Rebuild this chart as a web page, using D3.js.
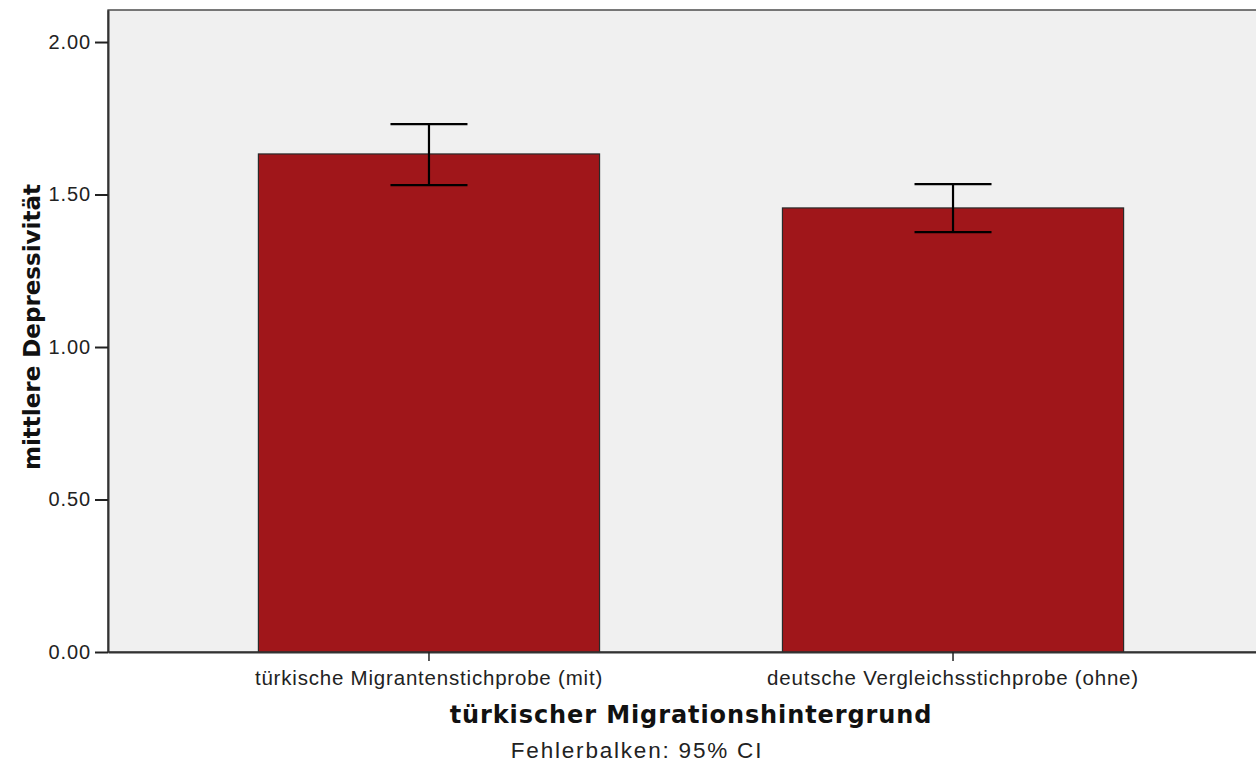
<!DOCTYPE html>
<html><head><meta charset="utf-8">
<script src="https://cdn.jsdelivr.net/npm/d3@7"></script>
<style>body{margin:0;background:#fff}svg{display:block}</style>
</head><body>
<svg id="c" width="1256" height="763"></svg>
<script>
const categories = ["türkische Migrantenstichprobe (mit)", "deutsche Vergleichsstichprobe (ohne)"];
const means = [1.633, 1.456];
const ciLow = [1.531, 1.377];
const ciHigh = [1.731, 1.534];
const yTicks = [0, 0.5, 1.0, 1.5, 2.0];
const yTitle = "mittlere Depressivität";
const xTitle = "türkischer Migrationshintergrund";
const footnote = "Fehlerbalken: 95% CI";

const svg = d3.select("#c");
const L = 108, T = 10, B = 652, R = 1274;
const y = d3.scaleLinear().domain([0, 2.105]).range([B, T]);
const x = d3.scaleBand().domain(categories).range([L, R]).paddingInner(0.349).paddingOuter(0.287);

svg.append("rect").attr("x", L).attr("y", T).attr("width", R - L).attr("height", B - T)
  .attr("fill", "#f0f0f0").attr("stroke", "#333").attr("stroke-width", 1.3);

const data = categories.map((c, i) => ({c, m: means[i], lo: ciLow[i], hi: ciHigh[i]}));

svg.selectAll(".bar").data(data).join("rect").attr("class", "bar")
  .attr("x", d => x(d.c)).attr("width", x.bandwidth())
  .attr("y", d => y(d.m)).attr("height", d => y(0) - y(d.m))
  .attr("fill", "#a0161a").attr("stroke", "#2a2a2a").attr("stroke-width", 1.2);

const capW = 77;
const eb = svg.selectAll(".eb").data(data).join("g").attr("class", "eb")
  .attr("stroke", "#000").attr("stroke-width", 2.2);
eb.append("line").attr("x1", d => x(d.c) + x.bandwidth() / 2).attr("x2", d => x(d.c) + x.bandwidth() / 2)
  .attr("y1", d => y(d.lo)).attr("y2", d => y(d.hi));
eb.append("line").attr("x1", d => x(d.c) + x.bandwidth() / 2 - capW / 2).attr("x2", d => x(d.c) + x.bandwidth() / 2 + capW / 2)
  .attr("y1", d => y(d.hi)).attr("y2", d => y(d.hi));
eb.append("line").attr("x1", d => x(d.c) + x.bandwidth() / 2 - capW / 2).attr("x2", d => x(d.c) + x.bandwidth() / 2 + capW / 2)
  .attr("y1", d => y(d.lo)).attr("y2", d => y(d.lo));

const tickFont = "Liberation Sans, Arial, sans-serif";
// Y axis
const ya = svg.append("g").attr("transform", `translate(${L},0)`)
  .call(d3.axisLeft(y).tickValues(yTicks).tickFormat(d3.format(".2f")).tickSize(13).tickPadding(4).tickSizeOuter(0));
ya.select(".domain").attr("stroke", "#333").attr("stroke-width", 2);
ya.selectAll(".tick line").attr("stroke", "#222").attr("stroke-width", 2);
ya.selectAll(".tick text").attr("font-family", tickFont).attr("font-size", 20).attr("letter-spacing", 0.9).attr("fill", "#222");

// X axis
const xa = svg.append("g").attr("transform", `translate(0,${B})`)
  .call(d3.axisBottom(x).tickSize(9).tickPadding(9).tickSizeOuter(0));
xa.select(".domain").attr("stroke", "#333").attr("stroke-width", 2);
xa.selectAll(".tick line").attr("stroke", "#222").attr("stroke-width", 1.5);
xa.selectAll(".tick text").attr("font-family", tickFont).attr("font-size", 20.5).attr("letter-spacing", 0.8).attr("fill", "#222");

svg.append("text").attr("x", 691).attr("y", 723).attr("text-anchor", "middle")
  .attr("font-family", "DejaVu Sans, sans-serif").attr("font-weight", "bold").attr("font-size", 24).attr("letter-spacing", 0.9)
  .attr("fill", "#111").text(xTitle);
svg.append("text").attr("x", 637).attr("y", 758).attr("text-anchor", "middle")
  .attr("font-family", tickFont).attr("font-size", 22.5).attr("letter-spacing", 1.8)
  .attr("fill", "#222").text(footnote);
svg.append("text").attr("transform", "translate(40,327) rotate(-90)").attr("text-anchor", "middle")
  .attr("font-family", "DejaVu Sans, sans-serif").attr("font-weight", "bold").attr("font-size", 23)
  .attr("fill", "#111").text(yTitle);
</script>
</body></html>
